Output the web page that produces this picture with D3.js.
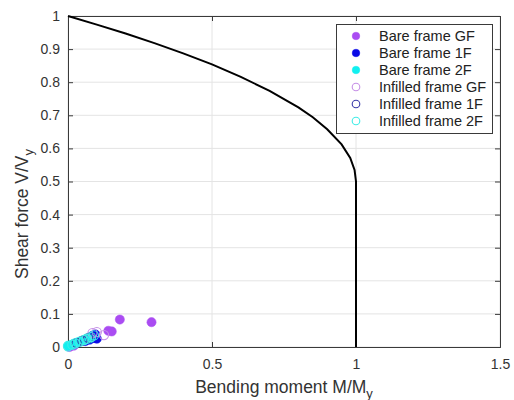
<!DOCTYPE html>
<html>
<head>
<meta charset="utf-8">
<script src="https://cdn.jsdelivr.net/npm/d3@7"></script>
<style>
  html, body { margin: 0; padding: 0; background: #fff; }
  svg { display: block; font-family: "Liberation Sans", Arial, sans-serif; }
</style>
</head>
<body>
<svg id="chart" width="514" height="400"></svg>
<script>
// Shear–moment interaction envelope (M/My, V/Vy)
const envelopeM = [0, 0.1, 0.2, 0.3, 0.4, 0.5, 0.6, 0.7, 0.8, 0.85, 0.9, 0.95, 0.98, 0.995, 1.0, 1.0];
const envelopeV = [1, 0.974, 0.947, 0.918, 0.887, 0.854, 0.816, 0.774, 0.724, 0.694, 0.658, 0.612, 0.571, 0.535, 0.5, 0];

// Column demand points for each frame and storey
const bareGF_M = [0.005, 0.02, 0.14, 0.152, 0.18, 0.29];
const bareGF_V = [0.0, 0.004, 0.049, 0.047, 0.083, 0.075];
const bare1F_M = [0.06, 0.075, 0.09, 0.1, 0.085, 0.095];
const bare1F_V = [0.018, 0.022, 0.027, 0.025, 0.034, 0.038];
const bare2F_M = [0.0, 0.01, 0.02, 0.03, 0.045, 0.06, 0.075];
const bare2F_V = [0.004, 0.006, 0.01, 0.013, 0.017, 0.022, 0.026];
const infGF_M = [0.085, 0.1, 0.125];
const infGF_V = [0.042, 0.045, 0.036];
const inf1F_M = [0.03, 0.05, 0.07, 0.08];
const inf1F_V = [0.012, 0.019, 0.027, 0.03];
const inf2F_M = [0.0, 0.015, 0.025, 0.04, 0.055, 0.065, 0.08, 0.09];
const inf2F_V = [0.002, 0.007, 0.011, 0.016, 0.021, 0.025, 0.03, 0.035];

const xTicks = [0, 0.5, 1, 1.5];
const yTicks = [0, 0.1, 0.2, 0.3, 0.4, 0.5, 0.6, 0.7, 0.8, 0.9, 1];

const seriesNames = ["Bare frame GF", "Bare frame 1F", "Bare frame 2F",
                     "Infilled frame GF", "Infilled frame 1F", "Infilled frame 2F"];

const series = [
  { name: seriesNames[0], M: bareGF_M, V: bareGF_V, color: "#aa4cf2", filled: true },
  { name: seriesNames[1], M: bare1F_M, V: bare1F_V, color: "#0a0ae6", filled: true },
  { name: seriesNames[2], M: bare2F_M, V: bare2F_V, color: "#10f0f0", filled: true },
  { name: seriesNames[3], M: infGF_M, V: infGF_V, color: "#c690e6", filled: false },
  { name: seriesNames[4], M: inf1F_M, V: inf1F_V, color: "#3a3aa8", filled: false },
  { name: seriesNames[5], M: inf2F_M, V: inf2F_V, color: "#40ece6", filled: false }
];

const svg = d3.select("#chart");
const L = 68, R = 500, T = 16, B = 347;
const x = d3.scaleLinear().domain([0, 1.5]).range([L, R]);
const y = d3.scaleLinear().domain([0, 1]).range([B, T]);
const axisColor = "#3a3a3a";
const textColor = "#333";

// grid
const grid = svg.append("g");
grid.selectAll(".gx").data(xTicks).enter().append("line")
  .attr("x1", d => x(d)).attr("x2", d => x(d)).attr("y1", T).attr("y2", B)
  .attr("stroke", "#e4e4e4").attr("stroke-width", 1);
grid.selectAll(".gy").data(yTicks).enter().append("line")
  .attr("x1", L).attr("x2", R).attr("y1", d => y(d)).attr("y2", d => y(d))
  .attr("stroke", "#e4e4e4").attr("stroke-width", 1);

// axes (ticks pointing inward, box on all sides)
const fmt = d => d3.format("")(d);
const xAxis = svg.append("g").attr("transform", `translate(0,${B})`)
  .call(d3.axisBottom(x).tickValues(xTicks).tickSize(-5).tickPadding(12).tickFormat(fmt));
const yAxis = svg.append("g").attr("transform", `translate(${L},0)`)
  .call(d3.axisLeft(y).tickValues(yTicks).tickSize(-5).tickPadding(8).tickFormat(fmt));
const xTop = svg.append("g").attr("transform", `translate(0,${T})`)
  .call(d3.axisTop(x).tickValues(xTicks).tickSize(-5).tickFormat(""));
const yRight = svg.append("g").attr("transform", `translate(${R},0)`)
  .call(d3.axisRight(y).tickValues(yTicks).tickSize(-5).tickFormat(""));
[xAxis, yAxis, xTop, yRight].forEach(g => {
  g.select(".domain").attr("stroke", axisColor).attr("stroke-width", 1);
  g.selectAll(".tick line").attr("stroke", axisColor);
  g.selectAll(".tick text").attr("fill", textColor).style("font-size", "14px")
    .style("font-family", "'Liberation Sans', Arial, sans-serif");
});

// data points
const pts = svg.append("g");
series.forEach(s => {
  pts.append("g").selectAll("circle").data(s.M.map((m, i) => [m, s.V[i]])).enter()
    .append("circle")
    .attr("cx", d => x(d[0])).attr("cy", d => y(d[1])).attr("r", 4.6)
    .attr("fill", s.filled ? s.color : "none")
    .attr("stroke", s.color).attr("stroke-width", s.filled ? 0.5 : 1.1);
});

// interaction envelope
const line = d3.line().x((d, i) => x(envelopeM[i])).y((d, i) => y(envelopeV[i]));
svg.append("path").datum(envelopeM).attr("d", line)
  .attr("fill", "none").attr("stroke", "#000").attr("stroke-width", 2);

// axis titles
const xl = svg.append("text").attr("x", (L + R) / 2).attr("y", 393)
  .attr("text-anchor", "middle").attr("fill", textColor).style("font-size", "17.5px");
xl.append("tspan").text("Bending moment M/M");
xl.append("tspan").attr("dy", 5).style("font-size", "13px").text("y");

const yl = svg.append("text").attr("transform", "translate(28,214) rotate(-90)")
  .attr("text-anchor", "middle").attr("fill", textColor).style("font-size", "17.5px");
yl.append("tspan").text("Shear force V/V");
yl.append("tspan").attr("dy", 5).style("font-size", "13px").text("y");

// legend
const lg = svg.append("g");
lg.append("rect").attr("x", 336.5).attr("y", 24.5).attr("width", 156).attr("height", 109)
  .attr("fill", "#fff").attr("stroke", axisColor).attr("stroke-width", 1);
const rows = lg.selectAll(".row").data(series).enter().append("g")
  .attr("transform", (d, i) => `translate(0,${36 + i * 17})`);
rows.append("circle").attr("cx", 356).attr("cy", 0).attr("r", 3.8)
  .attr("fill", d => d.filled ? d.color : "none")
  .attr("stroke", d => d.color).attr("stroke-width", d => d.filled ? 0.5 : 1.1);
rows.append("text").attr("x", 379).attr("y", 5).attr("fill", "#222")
  .style("font-size", "14.5px").text(d => d.name);
</script>
</body>
</html>
